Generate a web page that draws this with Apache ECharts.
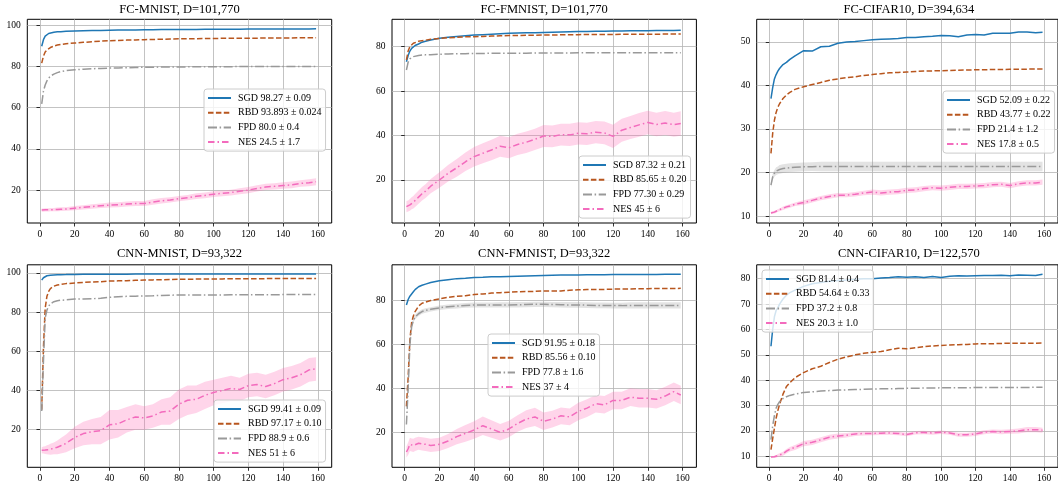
<!DOCTYPE html>
<html><head><meta charset="utf-8">
<script src="https://cdn.jsdelivr.net/npm/echarts@6/dist/echarts.min.js"></script>
<style>html,body{margin:0;padding:0;background:#fff}#c{width:1058px;height:487px}</style>
</head><body><div id="c"></div>
<script>
// ---------------- data ----------------
const X = [1,2,3,4,5,6,8,10,12,15, 20,25,30,35,40,45,50,55,60,65, 70,75,80,85,90,95,100,105,110,115, 120,125,130,135,140,145,150,155,159];
const X_TICKS = [0,20,40,60,80,100,120,140,160];
const TITLES = ['FC-MNIST, D=101,770','FC-FMNIST, D=101,770','FC-CIFAR10, D=394,634','CNN-MNIST, D=93,322','CNN-FMNIST, D=93,322','CNN-CIFAR10, D=122,570'];
const METHODS = ['SGD','RBD','FPD','NES'];

const LABELS_FC_MNIST = ['SGD 98.27 ± 0.09','RBD 93.893 ± 0.024','FPD 80.0 ± 0.4','NES 24.5 ± 1.7'];
const LABELS_FC_FMNIST = ['SGD 87.32 ± 0.21','RBD 85.65 ± 0.20','FPD 77.30 ± 0.29','NES 45 ± 6'];
const LABELS_FC_CIFAR10 = ['SGD 52.09 ± 0.22','RBD 43.77 ± 0.22','FPD 21.4 ± 1.2','NES 17.8 ± 0.5'];
const LABELS_CNN_MNIST = ['SGD 99.41 ± 0.09','RBD 97.17 ± 0.10','FPD 88.9 ± 0.6','NES 51 ± 6'];
const LABELS_CNN_FMNIST = ['SGD 91.95 ± 0.18','RBD 85.56 ± 0.10','FPD 77.8 ± 1.6','NES 37 ± 4'];
const LABELS_CNN_CIFAR10 = ['SGD 81.4 ± 0.4','RBD 54.64 ± 0.33','FPD 37.2 ± 0.8','NES 20.3 ± 1.0'];

const Y_TICKS_FC_MNIST = [20,40,60,80,100];
const Y_TICKS_FC_FMNIST = [20,40,60,80];
const Y_TICKS_FC_CIFAR10 = [10,20,30,40,50];
const Y_TICKS_CNN_MNIST = [20,40,60,80,100];
const Y_TICKS_CNN_FMNIST = [20,40,60,80];
const Y_TICKS_CNN_CIFAR10 = [10,20,30,40,50,60,70,80];
const Y_RANGE = [[4.0,102.9],[0.65,92.3],[8.4,55.2],[0.8,104.1],[4.04,96.3],[5.66,85.5]];

const FC_MNIST_SGD = [89.8,93.0,94.7,95.5,96.0,96.3,96.6,96.8,96.9,97.05, 97.2,97.35,97.45,97.5,97.6,97.65,97.7,97.75,97.8,97.85, 97.9,97.9,97.95,98.0,98.0,98.05,98.05,98.1,98.1,98.1, 98.15,98.15,98.2,98.2,98.2,98.25,98.25,98.25,98.27];
const FC_MNIST_RBD = [81.6,85.0,87.0,88.0,88.7,89.2,89.9,90.4,90.7,91.0, 91.4,91.7,92.0,92.3,92.5,92.65,92.8,92.9,93.0,93.1, 93.2,93.3,93.4,93.45,93.5,93.55,93.6,93.65,93.7,93.7, 93.75,93.75,93.8,93.8,93.85,93.85,93.9,93.9,93.9];
const FC_MNIST_FPD = [61.8,68.0,71.0,73.0,74.3,75.3,76.3,77.0,77.5,78.0, 78.4,78.7,78.9,79.05,79.2,79.3,79.4,79.5,79.6,79.65, 79.7,79.75,79.8,79.8,79.85,79.85,79.9,79.9,79.9,79.95, 79.95,79.95,80.0,80.0,80.0,80.0,80.0,80.0,80.0];
const FC_MNIST_NES = [10.3,10.3,10.4,10.4,10.4,10.5,10.5,10.6,10.7,10.8, 11.2,11.6,12.0,12.4,12.7,12.9,13.2,13.5,13.5,14.2, 14.8,15.2,15.8,16.3,17.0,17.4,18.0,18.4,18.8,19.4, 20.0,20.8,21.5,21.8,22.2,22.5,23.2,23.6,24.0];
const FC_MNIST_NES_STD = [0.8,0.8,0.8,0.8,0.8,0.8,0.8,0.9,0.9,0.9, 1.0,1.0,1.1,1.1,1.2,1.2,1.2,1.2,1.2,1.3, 1.3,1.3,1.3,1.3,1.4,1.4,1.4,1.4,1.4,1.5, 1.5,1.5,1.5,1.5,1.6,1.6,1.6,1.7,1.7];

const FC_FMNIST_SGD = [73.2,76.0,78.0,79.2,80.0,80.5,81.2,82.0,82.4,83.0, 83.8,84.2,84.6,84.9,85.2,85.4,85.6,85.8,86.0,86.1, 86.2,86.3,86.4,86.5,86.6,86.7,86.8,86.85,86.9,86.95, 87.0,87.05,87.1,87.15,87.2,87.25,87.3,87.3,87.35];
const FC_FMNIST_RBD = [74.0,78.0,80.0,80.8,81.5,81.9,82.4,82.7,82.9,83.3, 83.7,84.0,84.2,84.4,84.5,84.6,84.75,84.9,85.0,85.05, 85.1,85.15,85.2,85.25,85.3,85.35,85.4,85.45,85.45,85.5, 85.5,85.55,85.55,85.6,85.6,85.6,85.65,85.65,85.65];
const FC_FMNIST_FPD = [69.5,73.0,74.5,75.0,75.5,75.8,76.0,76.2,76.3,76.4, 76.6,76.7,76.8,76.85,76.9,76.95,77.0,77.0,77.0,77.05, 77.05,77.1,77.1,77.1,77.15,77.15,77.2,77.2,77.2,77.25, 77.3,77.3,77.3,77.3,77.3,77.3,77.3,77.3,77.3];
const FC_FMNIST_NES = [8.0,8.3,8.8,9.5,10.0,10.8,12.3,13.8,15.0,17.2, 20.0,23.0,25.5,28.2,30.5,32.0,33.5,35.2,34.5,36.0, 37.0,38.3,39.8,39.6,40.4,40.3,41.0,40.8,41.5,41.2, 39.6,42.4,43.6,44.8,45.9,45.0,45.6,44.9,45.4];
const FC_FMNIST_NES_STD = [2.5,2.5,2.6,2.7,2.8,2.9,3.0,3.0,3.1,3.2, 3.5,3.7,4.0,4.2,4.4,4.5,4.6,4.7,4.7,4.8, 4.8,4.8,4.9,4.9,4.9,5.0,5.0,5.0,5.0,5.1, 5.2,5.2,5.2,5.3,5.3,5.3,5.4,5.4,5.5];

const FC_CIFAR10_SGD = [37.0,39.5,41.5,42.5,43.3,43.9,44.8,45.3,46.0,46.8, 48.0,47.9,48.9,49.0,49.7,50.0,50.1,50.3,50.5,50.6, 50.7,50.8,51.0,51.0,51.2,51.3,51.5,51.4,51.2,51.6, 51.7,51.6,52.0,52.0,52.0,52.3,52.3,52.1,52.2];
const FC_CIFAR10_RBD = [24.4,29.0,32.0,33.8,35.0,35.8,37.0,37.8,38.4,39.1, 39.7,40.2,40.7,41.2,41.5,41.8,42.0,42.3,42.5,42.7, 42.9,43.0,43.1,43.2,43.3,43.35,43.4,43.45,43.5,43.55, 43.6,43.62,43.65,43.68,43.7,43.72,43.75,43.77,43.77];
const FC_CIFAR10_FPD = [17.1,19.0,19.8,20.3,20.5,20.7,20.9,21.0,21.1,21.2, 21.3,21.35,21.4,21.4,21.4,21.4,21.4,21.4,21.4,21.4, 21.4,21.4,21.4,21.4,21.4,21.4,21.4,21.4,21.4,21.4, 21.4,21.4,21.4,21.4,21.4,21.4,21.4,21.4,21.4];
const FC_CIFAR10_FPD_STD = [0.6,0.7,0.8,0.9,0.9,1.0,1.0,1.0,1.0,1.0, 1.0,1.0,1.1,1.1,1.1,1.1,1.1,1.1,1.1,1.1, 1.1,1.1,1.1,1.1,1.1,1.1,1.1,1.1,1.1,1.1, 1.1,1.1,1.1,1.1,1.1,1.1,1.1,1.1,1.1];
const FC_CIFAR10_NES = [10.7,10.8,10.9,11.0,11.3,11.4,11.8,12.1,12.3,12.7, 13.1,13.6,14.1,14.5,14.8,14.8,15.0,15.3,15.5,15.3, 15.5,15.6,15.9,16.0,16.3,16.5,16.4,16.6,16.8,16.8, 16.9,17.0,17.2,17.3,17.0,17.4,17.6,17.6,17.8];
const FC_CIFAR10_NES_STD = [0.3,0.3,0.3,0.3,0.3,0.3,0.4,0.4,0.4,0.4, 0.5,0.5,0.5,0.5,0.5,0.5,0.5,0.5,0.6,0.6, 0.6,0.6,0.6,0.6,0.6,0.6,0.6,0.6,0.6,0.6, 0.6,0.6,0.6,0.6,0.6,0.6,0.6,0.6,0.6];

const CNN_MNIST_SGD = [96.3,97.5,98.2,98.5,98.7,98.8,98.9,99.0,99.05,99.1, 99.2,99.25,99.3,99.3,99.3,99.32,99.33,99.35,99.35,99.36, 99.37,99.38,99.38,99.39,99.39,99.4,99.4,99.4,99.4,99.4, 99.4,99.41,99.41,99.41,99.41,99.41,99.41,99.41,99.41];
const CNN_MNIST_RBD = [30.2,62.0,82.0,88.0,90.5,92.0,93.2,93.8,94.1,94.5, 94.8,95.1,95.3,95.5,95.8,95.9,96.0,96.2,96.3,96.4, 96.5,96.6,96.7,96.75,96.8,96.85,96.9,96.92,96.95,96.97, 97.0,97.02,97.05,97.08,97.1,97.12,97.14,97.16,97.17];
const CNN_MNIST_FPD = [29.5,55.0,77.0,81.0,83.0,84.2,85.3,85.8,86.0,86.2, 86.6,86.7,86.8,87.0,87.5,87.8,88.0,88.1,88.2,88.3, 88.5,88.6,88.7,88.7,88.7,88.7,88.7,88.75,88.8,88.8, 88.8,88.85,88.85,88.85,88.9,88.9,88.9,88.9,88.9];
const CNN_MNIST_NES = [9.5,9.6,9.6,9.7,9.8,10.0,10.5,11.0,11.8,13.0, 16.0,18.0,19.0,19.5,22.5,23.0,25.0,26.5,26.0,27.0, 29.0,29.5,33.0,35.0,35.5,37.5,39.0,40.0,41.0,40.5, 42.5,43.0,42.0,43.5,45.5,46.5,48.0,50.5,51.0];
const CNN_MNIST_NES_STD = [1.5,1.8,2.0,2.3,2.5,2.8,3.0,3.5,4.0,4.5, 5.5,6.0,6.5,7.0,7.5,7.0,6.5,6.5,6.0,6.0, 6.5,7.0,7.5,7.5,7.0,7.0,6.5,6.5,6.5,6.0, 6.0,6.0,6.0,6.0,6.0,6.0,6.0,6.0,6.0];

const CNN_FMNIST_SGD = [78.0,80.5,82.0,83.0,84.0,85.0,86.3,87.0,87.5,88.2, 89.0,89.5,90.0,90.2,90.5,90.6,90.8,90.9,91.0,91.1, 91.2,91.3,91.4,91.5,91.6,91.6,91.7,91.8,91.8,91.8, 91.9,91.9,91.9,91.9,91.9,91.9,91.95,91.95,91.95];
const CNN_FMNIST_RBD = [31.8,45.0,62.0,70.0,73.0,75.0,77.5,78.8,79.3,80.0, 80.8,81.5,82.0,82.2,82.8,83.0,83.4,83.6,83.8,84.0, 84.1,84.2,84.4,84.4,84.4,84.7,84.9,85.0,85.1,85.1, 85.2,85.3,85.3,85.4,85.4,85.5,85.5,85.55,85.56];
const CNN_FMNIST_FPD = [23.5,40.0,60.0,68.0,71.0,72.5,74.0,75.0,75.5,76.0, 76.7,77.2,77.5,77.8,78.0,78.0,78.0,78.0,78.0,78.1, 78.2,78.3,78.3,78.2,78.1,78.0,78.0,77.9,77.8,77.8, 77.7,77.7,77.8,77.8,77.8,77.8,77.8,77.8,77.8];
const CNN_FMNIST_FPD_STD = [0.8,1.0,1.0,1.0,1.0,1.0,1.0,1.0,1.0,1.0, 1.0,1.0,1.1,1.1,1.1,1.1,1.1,1.2,1.2,1.2, 1.2,1.2,1.2,1.2,1.2,1.3,1.3,1.3,1.3,1.3, 1.3,1.3,1.4,1.4,1.4,1.4,1.4,1.4,1.4];
const CNN_FMNIST_NES = [11.0,12.5,14.5,14.2,14.0,14.5,15.0,14.7,14.5,14.0, 14.5,16.0,18.0,19.5,21.0,23.0,21.5,20.0,21.5,24.0, 26.0,27.0,25.0,26.0,27.5,27.0,29.5,31.0,33.0,32.5, 34.5,34.5,36.0,35.5,35.5,35.0,36.5,38.5,37.0];
const CNN_FMNIST_NES_STD = [2.5,2.8,3.0,3.0,3.0,3.0,3.0,3.0,3.0,3.0, 3.0,3.2,3.5,3.8,4.0,4.2,4.0,3.8,3.8,3.8, 4.0,4.2,4.0,3.8,3.8,3.8,4.0,4.0,4.0,4.0, 4.0,4.0,4.0,4.2,4.2,4.2,4.2,4.2,4.2];

const CNN_CIFAR10_SGD = [53.4,60.0,65.0,67.5,68.5,70.0,72.0,73.5,74.5,75.5, 77.0,78.0,78.5,79.0,79.3,79.5,79.8,80.0,80.0,80.3, 80.5,80.8,80.6,80.8,80.5,80.9,80.5,81.0,81.2,81.1, 81.2,81.3,81.3,81.4,81.2,81.5,81.4,81.3,81.8];
const CNN_CIFAR10_RBD = [12.6,17.0,21.0,25.0,28.0,30.5,34.5,37.5,39.0,41.0, 43.0,44.5,45.5,47.0,48.3,49.2,50.0,50.6,51.0,51.3, 52.0,52.6,52.4,52.8,53.2,53.5,53.7,53.9,54.0,54.1, 54.3,54.4,54.4,54.5,54.6,54.6,54.6,54.6,54.64];
const CNN_CIFAR10_FPD = [16.6,22.0,26.0,29.0,30.5,31.5,32.8,33.5,34.0,34.5, 35.2,35.4,35.7,35.9,36.1,36.2,36.3,36.4,36.5,36.6, 36.6,36.7,36.8,36.8,36.9,36.9,37.0,37.0,37.0,37.05, 37.1,37.1,37.1,37.1,37.1,37.15,37.15,37.2,37.2];
const CNN_CIFAR10_NES = [9.7,9.7,9.8,9.9,10.3,10.5,11.0,12.0,12.8,13.5, 15.0,15.5,16.5,17.5,18.0,18.3,18.8,19.0,19.0,19.1, 19.2,19.0,18.6,19.3,19.4,19.2,19.5,19.2,18.5,18.5, 18.8,19.5,19.8,19.6,19.8,20.0,20.5,20.5,20.3];
const CNN_CIFAR10_NES_STD = [0.3,0.3,0.4,0.5,0.6,0.7,0.8,0.9,0.9,1.0, 1.0,1.0,1.0,1.0,1.0,0.9,0.8,0.8,0.7,0.7, 0.7,0.7,0.7,0.7,0.7,0.7,0.7,0.7,0.8,0.8, 0.8,0.8,0.8,0.9,0.9,1.0,1.0,1.0,1.0];

// ---------------- assembly ----------------
const PANELS = [
  {labels: LABELS_FC_MNIST, yTicks: Y_TICKS_FC_MNIST, lines: [FC_MNIST_SGD, FC_MNIST_RBD, FC_MNIST_FPD, FC_MNIST_NES], stds: [null, null, null, FC_MNIST_NES_STD]},
  {labels: LABELS_FC_FMNIST, yTicks: Y_TICKS_FC_FMNIST, lines: [FC_FMNIST_SGD, FC_FMNIST_RBD, FC_FMNIST_FPD, FC_FMNIST_NES], stds: [null, null, null, FC_FMNIST_NES_STD]},
  {labels: LABELS_FC_CIFAR10, yTicks: Y_TICKS_FC_CIFAR10, lines: [FC_CIFAR10_SGD, FC_CIFAR10_RBD, FC_CIFAR10_FPD, FC_CIFAR10_NES], stds: [null, null, FC_CIFAR10_FPD_STD, FC_CIFAR10_NES_STD]},
  {labels: LABELS_CNN_MNIST, yTicks: Y_TICKS_CNN_MNIST, lines: [CNN_MNIST_SGD, CNN_MNIST_RBD, CNN_MNIST_FPD, CNN_MNIST_NES], stds: [null, null, null, CNN_MNIST_NES_STD]},
  {labels: LABELS_CNN_FMNIST, yTicks: Y_TICKS_CNN_FMNIST, lines: [CNN_FMNIST_SGD, CNN_FMNIST_RBD, CNN_FMNIST_FPD, CNN_FMNIST_NES], stds: [null, null, CNN_FMNIST_FPD_STD, CNN_FMNIST_NES_STD]},
  {labels: LABELS_CNN_CIFAR10, yTicks: Y_TICKS_CNN_CIFAR10, lines: [CNN_CIFAR10_SGD, CNN_CIFAR10_RBD, CNN_CIFAR10_FPD, CNN_CIFAR10_NES], stds: [null, null, null, CNN_CIFAR10_NES_STD]}
];

// layout / style
const FONT = 'Liberation Serif';
const COL_LEFT = [27.3, 392, 756.7];
const ROW_TOP = [19.3, 264.8];
const ROW_H = [203.7, 202.5];
const GRID_W = 304.4;
const TITLE_Y = [10, 253.7];
const LEGEND_POS = [[204,89],[579,156],[943,91],[214,400],[488,334],[762,270]];
const COLORS = ['#1f77b4', '#b8561e', '#999999', '#f36bbd'];
const DASH = ['solid', [5.5,2.4], [9,2.6,1.5,2.6], [6.5,3,1.5,3]];
const BAND_COLORS = ['#1f77b4', '#b8561e', '#9a9a9a', '#ff69b4'];
const GRID_LINE = '#b4b4b4';

const chart = echarts.init(document.getElementById('c'), null, {renderer: 'canvas'});
const grid = [], xAxis = [], yAxis = [], series = [], title = [], legend = [];

function bandSeries(i, mean, sd, color) {
  return {
    type: 'custom', xAxisIndex: i, yAxisIndex: i, silent: true, z: 1,
    data: [[X[0], mean[0]]],
    renderItem: function (params, api) {
      const up = [], lo = [];
      for (let k = 0; k < X.length; k++) {
        up.push(api.coord([X[k], mean[k] + sd[k]]));
        lo.push(api.coord([X[k], mean[k] - sd[k]]));
      }
      const pts = up.concat(lo.reverse());
      const cs = params.coordSys;
      return {
        type: 'group',
        clipPath: {type: 'rect', shape: {x: cs.x, y: cs.y, width: cs.width, height: cs.height}},
        children: [{type: 'polygon', shape: {points: pts}, style: {fill: color, opacity: 0.28, stroke: null}}]
      };
    }
  };
}

PANELS.forEach((p, i) => {
  const r = Math.floor(i / 3), c = i % 3;
  grid.push({left: COL_LEFT[c], top: ROW_TOP[r], width: GRID_W, height: ROW_H[r], show: true, borderColor: '#000', borderWidth: 1, backgroundColor: 'transparent', containLabel: false});
  title.push({text: TITLES[i], left: COL_LEFT[c] + GRID_W / 2, top: TITLE_Y[r], textAlign: 'center', textVerticalAlign: 'middle', padding: 0,
    textStyle: {fontFamily: FONT, fontSize: 12.5, fontWeight: 'normal', color: '#000'}});
  xAxis.push({type: 'value', gridIndex: i, min: -7.3, max: 168,
    axisLine: {show: false},
    axisTick: {show: true, inside: false, length: 3.5, customValues: X_TICKS, lineStyle: {color: '#000', width: 0.8}},
    axisLabel: {show: true, customValues: X_TICKS, margin: 6.5, fontFamily: FONT, fontSize: 9.5, color: '#000'},
    splitLine: {show: true, lineStyle: {color: GRID_LINE, width: 0.8}}});
  yAxis.push({type: 'value', gridIndex: i, min: Y_RANGE[i][0], max: Y_RANGE[i][1],
    axisLine: {show: false},
    axisTick: {show: true, inside: false, length: 3.5, customValues: p.yTicks, lineStyle: {color: '#000', width: 0.8}},
    axisLabel: {show: true, customValues: p.yTicks, margin: 6.5, fontFamily: FONT, fontSize: 9.5, color: '#000'},
    splitLine: {show: true, lineStyle: {color: GRID_LINE, width: 0.8}}});

  p.lines.forEach((arr, m) => {
    if (p.stds[m]) series.push(bandSeries(i, arr, p.stds[m], BAND_COLORS[m]));
  });
  p.lines.forEach((arr, m) => {
    series.push({type: 'line', name: p.labels[m], xAxisIndex: i, yAxisIndex: i, symbol: 'none', z: 3 + m,
      lineStyle: {color: COLORS[m], width: 1.5, type: DASH[m]}, itemStyle: {color: COLORS[m]},
      data: X.map((x, k) => [x, arr[k]])});
  });
  legend.push({data: p.labels, orient: 'vertical', left: LEGEND_POS[i][0], top: LEGEND_POS[i][1],
    itemWidth: 23, itemHeight: 12, itemGap: 2.7, padding: [3, 4, 3, 3], selectedMode: false,
    itemStyle: {color: 'rgba(0,0,0,0)', borderWidth: 0, opacity: 0},
    backgroundColor: 'rgba(255,255,255,0.8)', borderColor: '#cccccc', borderWidth: 1, borderRadius: 3,
    textStyle: {fontFamily: FONT, fontSize: 10, color: '#000', lineHeight: 12, padding: [0, 0, 0, 2]}});
});

chart.setOption({animation: false, backgroundColor: '#fff', grid, xAxis, yAxis, series, title, legend, tooltip: {show: false}});
</script></body></html>
